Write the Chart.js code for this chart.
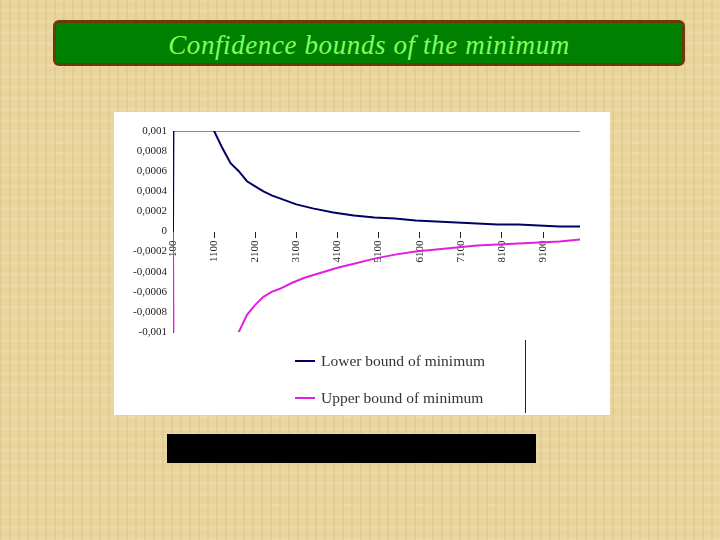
<!DOCTYPE html>
<html><head><meta charset="utf-8">
<script src="https://cdn.jsdelivr.net/npm/chart.js@4"></script>
<style>
body{margin:0;width:720px;height:540px;overflow:hidden;position:relative;
background:#e9d49c;background-image:repeating-linear-gradient(90deg,rgba(180,140,70,.12) 0 2px,transparent 2px 9px),repeating-linear-gradient(0deg,rgba(255,255,255,.12) 0 3px,transparent 3px 11px);}
#title{position:absolute;left:53px;top:20px;width:626px;height:40px;background:#008000;border:3px solid #6b3a0a;border-radius:6px;
color:#80ff60;font:italic 27px "Liberation Serif",serif;letter-spacing:0.6px;text-align:center;line-height:44px;}
#box{position:absolute;left:114px;top:112px;width:496px;height:303px;background:#fff;}
#leg{position:absolute;left:295px;top:342px;font:15.5px "Liberation Serif",serif;color:#333;}
#leg div{height:37px;display:flex;align-items:center;}
#leg span{display:inline-block;width:20px;height:2px;margin-right:6px;}
#vline{position:absolute;left:525px;top:340px;width:1px;height:73px;background:#222;}
#black{position:absolute;left:167px;top:434px;width:369px;height:29px;background:#000;}
</style></head><body>
<div id="title">Confidence bounds of the minimum</div>
<div id="box"><canvas id="c" width="496" height="303"></canvas></div>
<div id="leg"></div><div id="vline"></div><div id="black"></div>
<script>
const seriesNames=["Lower bound of minimum","Upper bound of minimum"];
const seriesColors=["#000066","#e020e0"];
const lowerX=[100,200,1100,1300,1500,1700,1900,2100,2300,2500,2700,2900,3100,3500,4000,4500,5000,5500,6000,6500,7000,7500,8000,8500,9000,9500,10000];
const lowerY=[0,0.01,0.001,0.00083,0.00068,0.0006,0.0005,0.00045,0.0004,0.00036,0.00033,0.0003,0.00027,0.00023,0.00019,0.00016,0.00014,0.00013,0.00011,0.0001,0.00009,0.00008,0.00007,0.00007,0.00006,0.00005,0.00005];
const upperX=[100,200,1700,1900,2100,2300,2500,2700,3000,3300,3700,4100,4500,5000,5500,6000,6500,7000,7500,8000,8500,9000,9500,10000];
const upperY=[0,-0.01,-0.001,-0.00083,-0.00073,-0.00065,-0.0006,-0.00057,-0.00051,-0.00046,-0.00041,-0.00036,-0.00032,-0.00027,-0.00023,-0.0002,-0.00018,-0.00016,-0.00014,-0.00013,-0.00012,-0.00011,-0.0001,-0.00008];
const xTicks=[100,1100,2100,3100,4100,5100,6100,7100,8100,9100];
const yTicks=[0.001,0.0008,0.0006,0.0004,0.0002,0,-0.0002,-0.0004,-0.0006,-0.0008,-0.001];
const toPts=(xs,ys)=>xs.map((x,i)=>({x,y:ys[i]}));
document.getElementById('leg').innerHTML=seriesNames.map((n,i)=>`<div><span style="background:${seriesColors[i]}"></span>${n}</div>`).join('');
const font={family:"Liberation Serif",size:11};
new Chart(document.getElementById('c'),{type:'line',
data:{datasets:[
{label:seriesNames[0],data:toPts(lowerX,lowerY),borderColor:seriesColors[0],borderWidth:2,pointRadius:0,tension:0},
{label:seriesNames[1],data:toPts(upperX,upperY),borderColor:seriesColors[1],borderWidth:2,pointRadius:0,tension:0}]},
options:{responsive:false,animation:false,layout:{padding:{top:19,right:30,bottom:83}},
plugins:{legend:{display:false},tooltip:{enabled:false}},
scales:{
x:{type:'linear',min:100,max:10000,position:{y:0},
afterBuildTicks:a=>{a.ticks=xTicks.map(v=>({value:v}));},
border:{display:false},grid:{drawOnChartArea:false,tickLength:6,color:'#222'},
ticks:{minRotation:90,maxRotation:90,autoSkip:false,font,color:'#222',callback:v=>String(v)}},
y:{min:-0.001,max:0.001,afterFit:a=>{a.width=59;},
afterBuildTicks:a=>{a.ticks=yTicks.map(v=>({value:v}));},
border:{display:true,color:'#333'},
grid:{drawTicks:false,color:c=>c.tick&&c.tick.value===0.001?'#888':'transparent'},
ticks:{font,color:'#222',padding:6,callback:v=>String(Math.round(v*10000)/10000).replace('.',',')}}}}});
</script></body></html>
